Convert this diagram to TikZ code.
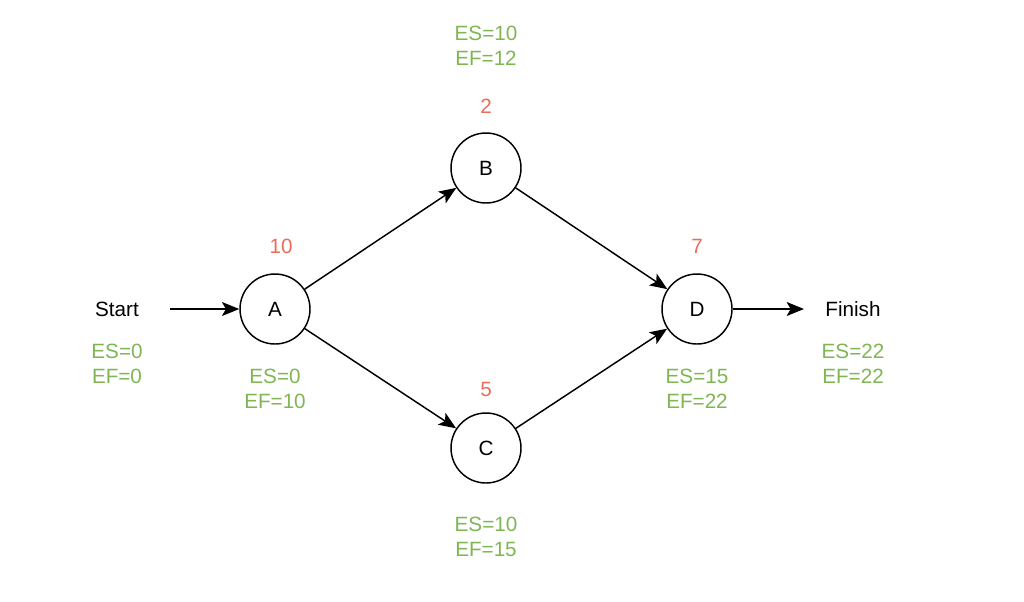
\documentclass[tikz,border=0pt]{standalone}
\usepackage{fontspec}
\setmainfont{Liberation Sans}
\usetikzlibrary{arrows.meta}
\definecolor{esgreen}{HTML}{7FB653}
\definecolor{durred}{HTML}{EA6B5A}
\begin{document}
\begin{tikzpicture}[x=0.75pt,y=-0.75pt,
    task/.style={draw,circle,line width=1.1pt,minimum size=52.5pt,inner sep=0pt,font=\fontsize{15.5}{18}\selectfont},
    plain/.style={font=\fontsize{15.5}{18}\selectfont},
    dur/.style={text=durred,font=\fontsize{15.5}{18}\selectfont},
    times/.style={text=esgreen,align=center,font=\fontsize{15.5}{18.75}\selectfont},
    link/.style={-{Stealth[length=13pt,width=10.5pt,inset=3pt]},line width=1.1pt}]
    \useasboundingbox (0,0) rectangle (1024,601);
    % activities
    \node[task] (A) at (275,309) {A};
    \node[task] (B) at (486,168) {B};
    \node[task] (C) at (486,448) {C};
    \node[task] (D) at (697,309) {D};
    \node[plain] (start) at (117,309) {Start};
    \node[plain] (finish) at (853,309) {Finish};
    \coordinate (s) at (170,309);
    \coordinate (f) at (804,309);
    % durations
    \node[dur] (dA) at (281,246) {10};
    \node[dur] (dB) at (486,106) {2};
    \node[dur] (dC) at (486,389) {5};
    \node[dur] (dD) at (697,246) {7};
    % earliest start / finish
    \node[times] (tS) at (117,364) {ES=0\\EF=0};
    \node[times] (tA) at (275,389) {ES=0\\EF=10};
    \node[times] (tB) at (486,46) {ES=10\\EF=12};
    \node[times] (tC) at (486,537) {ES=10\\EF=15};
    \node[times] (tD) at (697,389) {ES=15\\EF=22};
    \node[times] (tF) at (853,364) {ES=22\\EF=22};
    % links
    \draw[link] (s) -- (A);
    \draw[link] (A) -- (B);
    \draw[link] (A) -- (C);
    \draw[link] (B) -- (D);
    \draw[link] (C) -- (D);
    \draw[link] (D) -- (f);
\end{tikzpicture}
\end{document}
